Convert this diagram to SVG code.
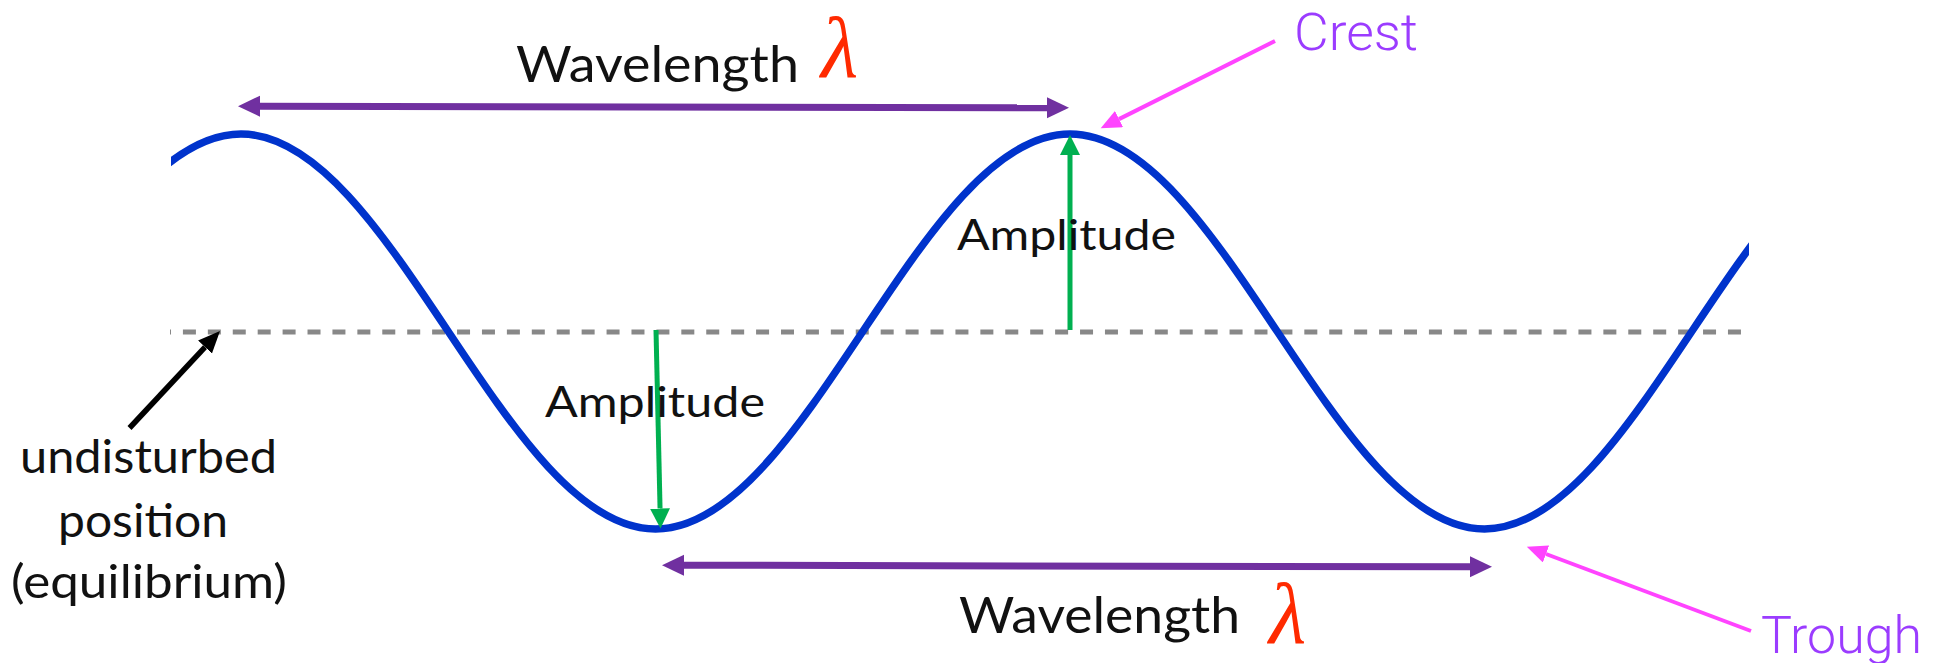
<svg xmlns="http://www.w3.org/2000/svg" width="1942" height="663" viewBox="0 0 1942 663">
<style>
.lbl{font-family:Lato,"Open Sans","Liberation Sans",sans-serif;fill:#111;}
.big{font-family:Roboto,Lato,"Liberation Sans",sans-serif;font-weight:300;fill:#9b3cff;font-size:52px;}
.lam{font-family:"Liberation Serif","DejaVu Serif",serif;font-style:italic;fill:#ff2a00;font-size:86px;}
.pur{stroke:#7030a0;stroke-width:7;fill:none;}
.grn{stroke:#00b050;stroke-width:5;fill:none;}
.pnk{stroke:#ff44ff;stroke-width:4;fill:none;}
.blk{stroke:#000;stroke-width:5.5;fill:none;}
</style>
<defs>
<clipPath id="wclip"><rect x="171" y="0" width="1578" height="663"/></clipPath>
<marker id="mp" markerUnits="userSpaceOnUse" markerWidth="23" markerHeight="22" refX="0" refY="10.5" orient="auto-start-reverse" viewBox="0 0 23 22"><path d="M0,0 L22,10.5 L0,21 z" fill="#7030a0"/></marker>
<marker id="mg" markerUnits="userSpaceOnUse" markerWidth="21" markerHeight="21" refX="0" refY="10" orient="auto" viewBox="0 0 21 21"><path d="M0,0 L20,10 L0,20 z" fill="#00b050"/></marker>
<marker id="mk" markerUnits="userSpaceOnUse" markerWidth="23" markerHeight="20" refX="0" refY="9.5" orient="auto" viewBox="0 0 23 20"><path d="M0,0 L22,9.5 L0,19 z" fill="#000"/></marker>
<marker id="mm" markerUnits="userSpaceOnUse" markerWidth="21" markerHeight="19" refX="0" refY="9" orient="auto" viewBox="0 0 21 19"><path d="M0,0 L20.5,9 L0,18 z" fill="#ff44ff"/></marker>
</defs>
<g id="equilibrium-line">
<line x1="170" y1="332" x2="1742" y2="332" stroke="#888" stroke-width="5" stroke-dasharray="13 11.92" stroke-dashoffset="12"/>
</g>
<g id="wave">
<path clip-path="url(#wclip)" d="M -173.5 529 C -23 529 90.5 134 241 134 S 505 529 655.5 529 S 919.5 134 1070 134 S 1334 529 1484.5 529 S 1748.5 134 1899 134" fill="none" stroke="#0033cc" stroke-width="7.5"/>
</g>
<g id="connectors">
<line class="pur" x1="260" y1="106.2" x2="1047" y2="107.8" marker-start="url(#mp)" marker-end="url(#mp)"/>
<line class="pur" x1="684" y1="565.2" x2="1470" y2="566.8" marker-start="url(#mp)" marker-end="url(#mp)"/>
<line class="grn" x1="1070" y1="330" x2="1070" y2="155" marker-end="url(#mg)"/>
<line class="grn" x1="656" y1="330" x2="660.05" y2="508.5" marker-end="url(#mg)"/>
<line class="blk" x1="129.5" y1="428" x2="205" y2="347.1" marker-end="url(#mk)"/>
<line class="pnk" x1="1275" y1="41" x2="1119" y2="119.1" marker-end="url(#mm)"/>
<line class="pnk" x1="1751" y1="631" x2="1546" y2="554" marker-end="url(#mm)"/>
</g>
<g id="wavelength-top">
<text class="lbl" x="516" y="82" font-size="51" textLength="283" lengthAdjust="spacingAndGlyphs">Wavelength</text>
<text class="lam" x="821" y="77">λ</text>
</g>
<g id="wavelength-bottom">
<text class="lbl" x="959" y="633" font-size="51" textLength="281" lengthAdjust="spacingAndGlyphs">Wavelength</text>
<text class="lam" x="1269" y="643">λ</text>
</g>
<g id="amplitude-crest">
<text class="lbl" x="957" y="250" font-size="43" textLength="219" lengthAdjust="spacingAndGlyphs">Amplitude</text>
</g>
<g id="amplitude-trough">
<text class="lbl" x="545" y="417" font-size="43" textLength="220" lengthAdjust="spacingAndGlyphs">Amplitude</text>
</g>
<g id="equilibrium-label">
<text class="lbl" x="20" y="473" font-size="46" textLength="257" lengthAdjust="spacingAndGlyphs">undisturbed</text>
<text class="lbl" x="58" y="537" font-size="46" textLength="170" lengthAdjust="spacingAndGlyphs">position</text>
<text class="lbl" x="11" y="598" font-size="46" textLength="276" lengthAdjust="spacingAndGlyphs">(equilibrium)</text>
</g>
<g id="crest-label">
<text class="big" x="1294" y="50" textLength="124" lengthAdjust="spacingAndGlyphs">Crest</text>
</g>
<g id="trough-label">
<text class="big" x="1761" y="653" textLength="161" lengthAdjust="spacingAndGlyphs">Trough</text>
</g>
</svg>
